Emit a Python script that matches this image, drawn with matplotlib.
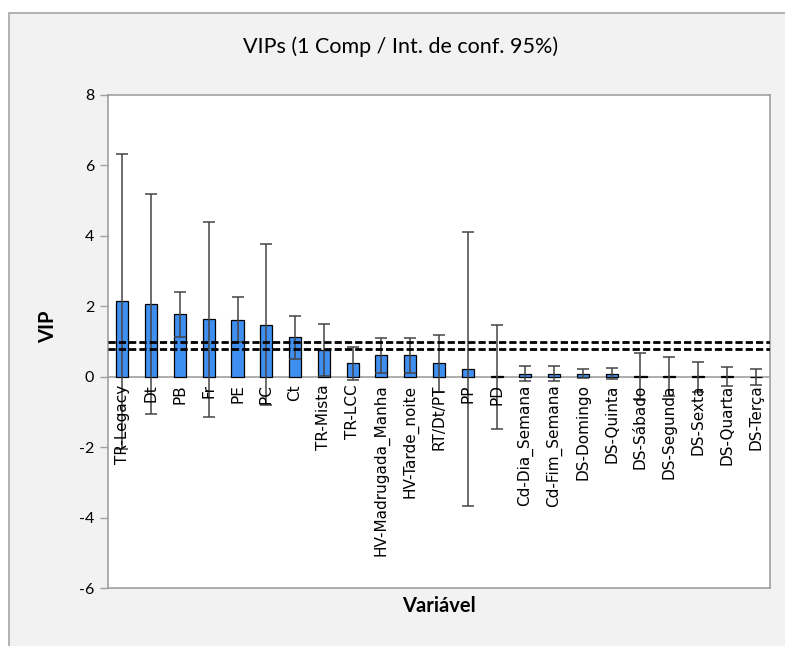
import numpy as np
import matplotlib.pyplot as plt
from matplotlib.patches import Rectangle

plt.rcParams['axes.unicode_minus'] = False

variaveis = ['TR-Legacy', 'Dt', 'PB', 'Fr', 'PE', 'PC', 'Ct', 'TR-Mista', 'TR-LCC',
             'HV-Madrugada_Manha', 'HV-Tarde_noite', 'RT/Dt/PT', 'PP', 'PD',
             'Cd-Dia_Semana', 'Cd-Fim_Semana', 'DS-Domingo', 'DS-Quinta',
             'DS-Sábado', 'DS-Segunda', 'DS-Sexta', 'DS-Quarta', 'DS-Terça']
vip = [2.14, 2.07, 1.77, 1.63, 1.62, 1.48, 1.12, 0.76, 0.39,
       0.61, 0.61, 0.39, 0.21, 0.01,
       0.09, 0.09, 0.09, 0.09,
       0.01, 0.01, 0.01, 0.01, 0.0]
ic_inf = [-2.05, -1.05, 1.12, -1.13, 0.98, -0.81, 0.50, 0.01, -0.08,
          0.10, 0.10, -0.42, -3.68, -1.48,
          -0.12, -0.12, -0.03, -0.07,
          -0.66, -0.55, -0.42, -0.26, -0.23]
ic_sup = [6.33, 5.19, 2.40, 4.38, 2.25, 3.77, 1.73, 1.51, 0.85,
          1.09, 1.09, 1.19, 4.10, 1.48,
          0.31, 0.31, 0.21, 0.25,
          0.67, 0.57, 0.43, 0.28, 0.21]
limiares = [0.8, 1.0]

vip = np.array(vip)
erro = [vip - np.array(ic_inf), np.array(ic_sup) - vip]
x = np.arange(len(variaveis))

fig = plt.figure(figsize=(7.85, 6.46), dpi=100, facecolor='white')
# moldura cinza do grafico
fig.patches.append(Rectangle((9 / 785, -0.01), 1.0, 1 - 13 / 646 + 0.01,
                             transform=fig.transFigure, facecolor='#f2f2f2',
                             edgecolor='#a6a6a6', linewidth=1.2, zorder=-1))

ax = fig.add_axes([108 / 785, 1 - 588 / 646, (770 - 108) / 785, (588 - 95) / 646])
ax.set_zorder(1)
ax.set_facecolor('white')

ax.bar(x, vip, width=0.42, color='#3f8ff0', edgecolor='black', linewidth=0.9, zorder=2)
ax.errorbar(x, vip, yerr=erro, fmt='none', ecolor='#444444', elinewidth=1.1,
            capsize=4.6, capthick=1.1, zorder=3)
ax.axhline(0, color='#a0a0a0', linewidth=1.2, zorder=1)
for l in limiares:
    ax.axhline(l, color='black', linewidth=2.0, dashes=(2.6, 1.1), zorder=4)

# rotulos das variaveis logo abaixo do zero
for i, nome in enumerate(variaveis):
    ax.text(i, -0.22, nome, rotation=90, ha='center', va='top', fontsize=11,
            family='DejaVu Sans', color='black', zorder=5)

ax.set_xlim(-0.5, len(variaveis) - 0.5)
ax.set_ylim(-6, 8)
ax.set_yticks(np.arange(-6, 9, 2))
ax.set_xticks([])
ax.tick_params(axis='y', direction='out', length=6, color='#a0a0a0', width=1,
               labelsize=11.5, pad=4)
for lab in ax.get_yticklabels():
    lab.set_family('Lato')
for s in ax.spines.values():
    s.set_color('#a0a0a0')
    s.set_linewidth(1.2)

fig.text(401 / 785, 1 - 47 / 646, 'VIPs (1 Comp / Int. de conf. 95%)', ha='center',
         va='center', fontsize=15.5, family='Lato')
fig.text(48 / 785, 1 - 327 / 646, 'VIP', rotation=90, ha='center', va='center',
         fontsize=14.5, fontweight='bold', family='Lato')
fig.text(439 / 785, 1 - 606 / 646, 'Variável', ha='center', va='center',
         fontsize=14.5, fontweight='bold', family='Lato')

fig.savefig('out.png', dpi=100, facecolor=fig.get_facecolor())
